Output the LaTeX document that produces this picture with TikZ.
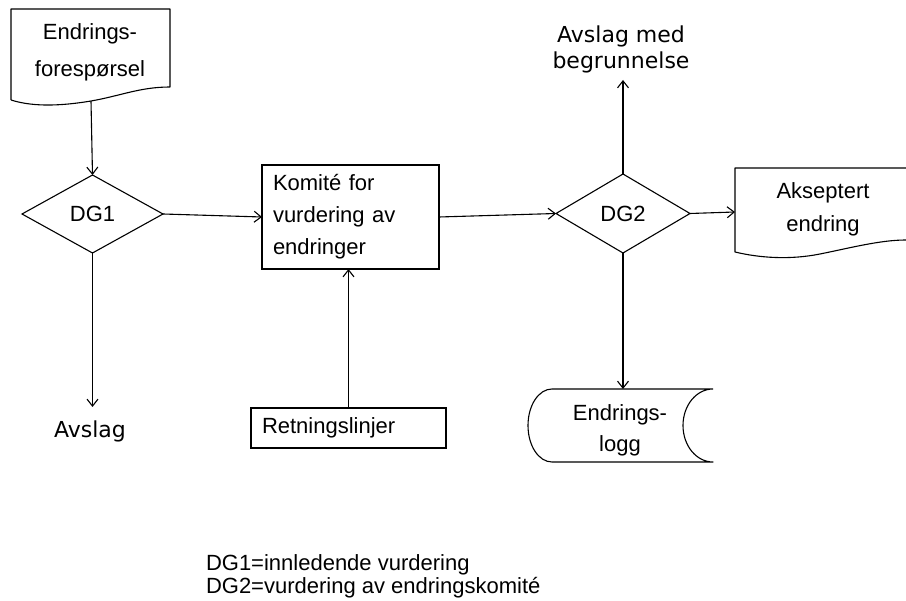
\documentclass[tikz,border=0pt]{standalone}
\usepackage{fontspec}
\setmainfont{Liberation Sans}
\newfontfamily\dejavu{DejaVu Sans}
\usetikzlibrary{shapes.geometric,arrows.meta}

\begin{document}
\begin{tikzpicture}[x=1pt,y=-1pt,
  line width=1.1pt,
  every node/.style={outer sep=0pt},
  label22/.style={font=\fontsize{22}{#1}\selectfont, align=center, inner sep=0pt},
  flow/.style={-{Straight Barb[length=7pt,width=11pt]}},
  gate/.style={draw, diamond, inner sep=0pt, font=\fontsize{22}{26}\selectfont},
  procbox/.style={draw, rectangle, inner ysep=0pt, inner xsep=11pt, align=left},
  outline/.style={line join=round}
]
\useasboundingbox (0,0) rectangle (906,601);

% incoming change request (document symbol)
\draw[outline] (11,100) -- (11,9) -- (170,9) -- (170,87)
  .. controls (140,87) and (120,96) .. (91,101)
  .. controls (55,107) and (30,106) .. (11,100);
\coordinate (reqOut) at (91,101);
\node[label22=37] (req) at (90,52) {Endrings-\\forespørsel};

% first decision gate
\node[gate, minimum width=141pt, minimum height=78pt] (dg1) at (92.5,214) {DG1};

% change review committee
\node[procbox, minimum width=177pt, minimum height=104pt, text width=155pt,
      font=\fontsize{22}{32}\selectfont] (kom) at (350.5,217)
  {Komité for\\vurdering av\\endringer};

% guidelines
\node[procbox, minimum width=195pt, minimum height=40pt, text width=173pt,
      font=\fontsize{22}{26}\selectfont] (ret) at (348.5,428) {Retningslinjer};

% second decision gate
\node[gate, minimum width=134pt, minimum height=79pt] (dg2) at (623,213.5) {DG2};

% accepted change (document symbol, open to the right)
\draw[outline] (906,168) -- (735,168) -- (735,252)
  .. controls (760,258) and (790,260) .. (820,254)
  .. controls (850,248) and (880,240) .. (906,240);
\coordinate (accIn) at (735,212);
\node[label22=33] (acc) at (823,209) {Akseptert\\endring};

% change log (stored data symbol)
\draw[outline] (713,389) -- (552,389)
  .. controls (538.7,389) and (528,405.3) .. (528,425.5)
  .. controls (528,445.7) and (538.7,462) .. (552,462)
  -- (713,462)
  .. controls (696.4,462) and (683,445.7) .. (683,425.5)
  .. controls (683,405.3) and (696.4,389) .. (713,389);
\coordinate (logIn) at (623,389);
\node[label22=31] (log) at (620,430) {Endrings-\\logg};

% rejections
\node[label22=26, font=\dejavu\fontsize{22}{26}\selectfont] (rej2) at (621,49)
  {Avslag med\\begrunnelse};
\coordinate (rej2Tip) at (623,80);
\node[label22=26, font=\dejavu\fontsize{22}{26}\selectfont] (rej1) at (90,431) {Avslag};
\coordinate (rej1Tip) at (92.5,407);

% legend
\node[font=\fontsize{22}{23}\selectfont, align=left, inner sep=0pt, anchor=west]
  (legend) at (206,576)
  {DG1=innledende vurdering\\DG2=vurdering av endringskomité};

% connectors
\draw[flow] (reqOut) -- (dg1.north);
\draw[flow] (dg1.east) -- (kom.west);
\draw[flow] (dg1.south) -- (rej1Tip);
\draw[flow] (ret.north) -- (ret.north |- kom.south);
\draw[flow] (kom.east) -- (dg2.west);
\draw[flow] (dg2.north) -- (rej2Tip);
\draw[flow] (dg2.east) -- (accIn);
\draw[flow] (dg2.south) -- (logIn);
\end{tikzpicture}
\end{document}
